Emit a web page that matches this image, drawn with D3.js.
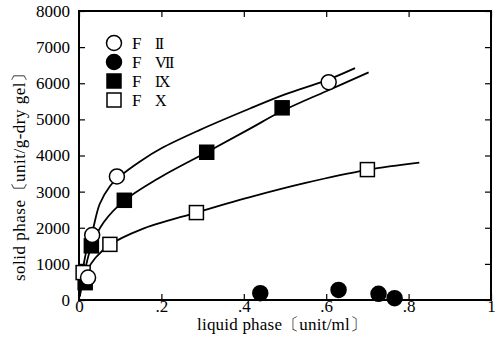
<!DOCTYPE html>
<html>
<head>
<meta charset="utf-8">
<script src="https://cdn.jsdelivr.net/npm/d3@7"></script>
<style>
body { margin: 0; background: #fff; }
text { font-family: "Liberation Serif", "DejaVu Serif", serif; fill: #000; }
</style>
</head>
<body>
<script>
var w = 500;
var h = 352;

// measured points [liquid, solid]
var f2Points = [[0.022, 620], [0.032, 1800], [0.092, 3420], [0.606, 6030]];
var f7Points = [[0.44, 190], [0.63, 280], [0.727, 170], [0.766, 50]];
var f9Points = [[0.015, 480], [0.03, 1500], [0.11, 2760], [0.31, 4090], [0.493, 5320]];
var f10Points = [[0.01, 760], [0.075, 1540], [0.285, 2420], [0.70, 3610]];

// fitted curves drawn through the points
var f2Curve = [[0.002, 100], [0.01, 900], [0.02, 1450], [0.032, 1870], [0.05, 2650], [0.075, 3150], [0.1, 3430], [0.15, 3850], [0.2, 4200], [0.29, 4690], [0.415, 5300], [0.5, 5690], [0.6, 6080], [0.67, 6420]];
var f9Curve = [[0.002, 100], [0.015, 850], [0.03, 1480], [0.06, 2150], [0.11, 2750], [0.19, 3350], [0.31, 4090], [0.413, 4730], [0.493, 5230], [0.6, 5780], [0.703, 6300]];
var f10Curve = [[0.003, 300], [0.02, 820], [0.04, 1170], [0.075, 1530], [0.15, 1950], [0.285, 2420], [0.413, 2840], [0.55, 3240], [0.7, 3600], [0.826, 3800]];

var xTicks = [0, 0.2, 0.4, 0.6, 0.8, 1];
var xTickLabels = ["0", ".2", ".4", ".6", ".8", "1"];
var yTicks = [0, 1000, 2000, 3000, 4000, 5000, 6000, 7000, 8000];

var legendNames = ["F", "F", "F", "F"];
var legendNumerals = ["II", "VII", "IX", "X"];
var legendShapes = ["circle-open", "circle-filled", "square-filled", "square-open"];

var pLeft = 79, pRight = 491, pTop = 11, pBottom = 300;

var svg = d3.select("body")
    .append("svg")
        .attr("width", w)
        .attr("height", h);

var x = d3.scaleLinear().domain([0, 1]).range([pLeft, pRight]);
var y = d3.scaleLinear().domain([0, 8000]).range([pBottom, pTop]);

// curves
var line = d3.line()
    .x(function(d) { return x(d[0]); })
    .y(function(d) { return y(d[1]); })
    .curve(d3.curveCatmullRom.alpha(0.5));

[f2Curve, f9Curve, f10Curve].forEach(function(c) {
    svg.append("path")
        .attr("d", line(c))
        .attr("fill", "none")
        .attr("stroke", "#000")
        .attr("stroke-width", 1.8);
});

// axes, ticks inward
var tickLen = 6;
svg.append("g")
    .attr("transform", "translate(0," + pBottom + ")")
    .call(d3.axisBottom(x).tickValues(xTicks).tickSizeInner(-tickLen).tickSizeOuter(0)
        .tickFormat(function(d, i) { return xTickLabels[i]; }))
    .call(function(g) {
        g.selectAll("text").attr("y", 0).attr("dy", "0.71em").style("font-size", "17px");
    });
svg.append("g")
    .attr("transform", "translate(0," + pTop + ")")
    .call(d3.axisTop(x).tickValues(xTicks).tickSizeInner(-tickLen).tickSizeOuter(0).tickFormat(""));
svg.append("g")
    .attr("transform", "translate(" + pLeft + ",0)")
    .call(d3.axisLeft(y).tickValues(yTicks).tickSizeInner(-tickLen).tickSizeOuter(0)
        .tickFormat(d3.format("d")))
    .call(function(g) {
        g.selectAll("text").attr("x", -9).style("font-size", "17px");
    });
svg.append("g")
    .attr("transform", "translate(" + pRight + ",0)")
    .call(d3.axisRight(y).tickValues(yTicks).tickSizeInner(-tickLen).tickSizeOuter(0).tickFormat(""));

svg.selectAll(".domain").remove();
svg.selectAll(".tick line").attr("stroke", "#000").attr("stroke-width", 1.2);
svg.selectAll(".tick text").attr("fill", "#000").style("font-family", "'Liberation Serif', serif");

svg.append("rect")
    .attr("x", pLeft)
    .attr("y", pTop)
    .attr("width", pRight - pLeft)
    .attr("height", pBottom - pTop)
    .attr("fill", "none")
    .attr("stroke", "#000")
    .attr("stroke-width", 2);

// markers
var r = 7.5;
var drawMarker = function(g, shape, cx, cy) {
    if (shape.indexOf("circle") === 0) {
        g.append("circle")
            .attr("cx", cx).attr("cy", cy).attr("r", r)
            .attr("fill", shape === "circle-filled" ? "#000" : "#fff")
            .attr("stroke", "#000").attr("stroke-width", 1.5);
    } else {
        g.append("rect")
            .attr("x", cx - r + 0.5).attr("y", cy - r + 0.5)
            .attr("width", 2 * r - 1).attr("height", 2 * r - 1)
            .attr("fill", shape === "square-filled" ? "#000" : "#fff")
            .attr("stroke", "#000").attr("stroke-width", 1.5);
    }
};

var marks = svg.append("g");
[[f9Points, "square-filled"], [f10Points, "square-open"], [f2Points, "circle-open"], [f7Points, "circle-filled"]]
    .forEach(function(s) {
        s[0].forEach(function(d) {
            drawMarker(marks, s[1], x(d[0]), y(d[1]));
        });
    });

// legend
var legend = svg.append("g");
legendShapes.forEach(function(shape, i) {
    var ly = 43 + i * 19;
    drawMarker(legend, shape, 114, ly);
    legend.append("text")
        .attr("x", 132).attr("y", ly + 6)
        .style("font-size", "17px")
        .text(legendNames[i]);
    legend.append("text")
        .attr("x", 155).attr("y", ly + 6)
        .style("font-size", "16px")
        .style("letter-spacing", "-1.5px")
        .text(legendNumerals[i]);
});

// axis titles
svg.append("text")
    .attr("x", 282)
    .attr("y", 330)
    .attr("text-anchor", "middle")
    .attr("textLength", 170)
    .style("font-size", "17px")
    .text("liquid phase〔unit/ml〕");

svg.append("text")
    .attr("transform", "translate(25,173) rotate(-90)")
    .attr("text-anchor", "middle")
    .attr("textLength", 216)
    .style("font-size", "17px")
    .text("solid phase〔unit/g-dry gel〕");
</script>
</body>
</html>
